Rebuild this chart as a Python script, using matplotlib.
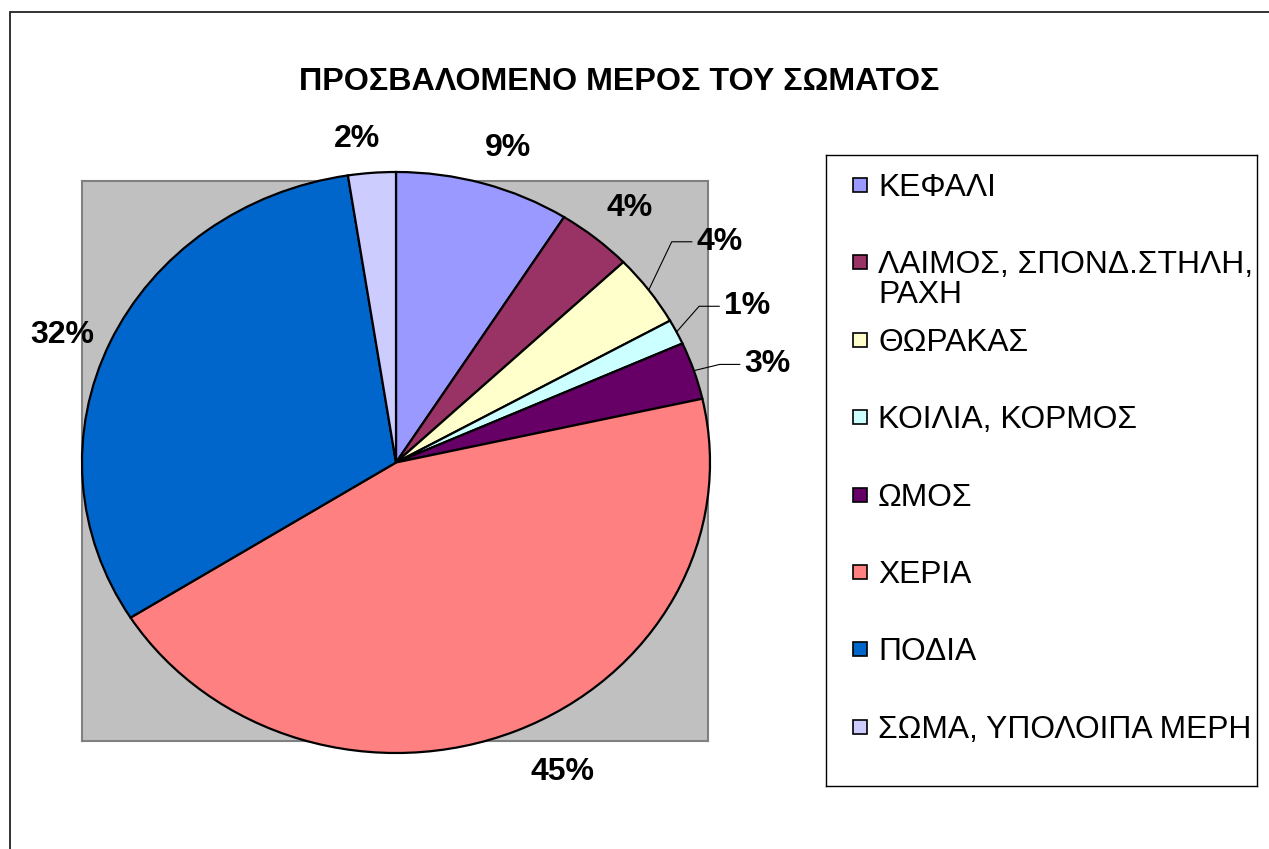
import numpy as np
import matplotlib
matplotlib.use('Agg')
import matplotlib.pyplot as plt
from matplotlib.patches import Rectangle

plt.rcParams['font.family'] = ['Liberation Sans', 'DejaVu Sans']

title = 'ΠΡΟΣΒΑΛΟΜΕΝΟ ΜΕΡΟΣ ΤΟΥ ΣΩΜΑΤΟΣ'
parts = ['ΚΕΦΑΛΙ', 'ΛΑΙΜΟΣ, ΣΠΟΝΔ.ΣΤΗΛΗ,\nΡΑΧΗ', 'ΘΩΡΑΚΑΣ', 'ΚΟΙΛΙΑ, ΚΟΡΜΟΣ',
         'ΩΜΟΣ', 'ΧΕΡΙΑ', 'ΠΟΔΙΑ', 'ΣΩΜΑ, ΥΠΟΛΟΙΠΑ ΜΕΡΗ']
shares = [9.0, 3.9, 4.0, 1.4, 3.2, 44.6, 31.55, 2.45]
colors = ['#9999FF', '#993366', '#FFFFCC', '#CCFFFF',
          '#660066', '#FF8080', '#0066CC', '#CCCCFF']

# label placement: radius (pie units), angle shift (deg), leader line or not
lab_r = [1.14, 1.15, 1.28, 1.24, 1.23, 1.19, 1.15, 1.12]
lab_shift = [2, 1, 0, 1, 2.5, -4, -2, -2]
leader = [False, False, True, True, True, False, False, False]

W, H = 1269, 849


def box(x0, y0, x1, y1):
    # pixel box (origin top-left) -> figure fraction rect
    return [x0 / W, 1 - y1 / H, (x1 - x0) / W, (y1 - y0) / H]


fig = plt.figure(figsize=(W / 100, H / 100), dpi=100)

# outer chart frame (only left/top edges fall inside the picture)
fig.add_artist(Rectangle((10 / W, -0.1), 1.2, 1.1 - 12 / H, transform=fig.transFigure,
                         fill=False, edgecolor='#222222', linewidth=1.3))

# gray plot area
bg = fig.add_axes(box(82, 181, 708, 741))
bg.set_facecolor('#C0C0C0')
bg.set_xticks([])
bg.set_yticks([])
for s in bg.spines.values():
    s.set_color('#808080')
    s.set_linewidth(1.5)

# pie (stretched a bit vertically like the original)
ax = fig.add_axes(box(82, 172, 710, 753))
ax.pie(shares, colors=colors, startangle=90, counterclock=False, radius=1,
       wedgeprops=dict(edgecolor='black', linewidth=1.6))
ax.set_aspect('auto')
ax.set_xlim(-1, 1)
ax.set_ylim(-1, 1)
ax.set_axis_off()

total = sum(shares)
cum = np.cumsum(shares)
for i, v in enumerate(shares):
    ang = np.deg2rad((cum[i] - v / 2) / total * 360 + lab_shift[i])
    x, y = lab_r[i] * np.sin(ang), lab_r[i] * np.cos(ang)
    ax.text(x, y, f'{round(v / total * 100):.0f}%', ha='center', va='center',
            fontsize=23, fontweight='bold', clip_on=False)
    if leader[i]:
        mid = np.deg2rad((cum[i] - v / 2) / total * 360)
        tip = x - 0.088
        ax.plot([np.sin(mid), tip - 0.064, tip], [np.cos(mid), y, y],
                color='black', linewidth=0.8, clip_on=False)

fig.text(619 / W, 1 - 82 / H, title, ha='center', va='center',
         fontsize=23.2, fontweight='bold')

# legend box drawn by hand (Excel style, marker on first line)
lg = fig.add_axes(box(826, 155, 1257, 786))
lg.set_xlim(826, 1257)
lg.set_ylim(786, 155)
lg.set_xticks([])
lg.set_yticks([])
for s in lg.spines.values():
    s.set_color('black')
    s.set_linewidth(1.0)

for i, (lab, c) in enumerate(zip(parts, colors)):
    y = 185 + i * 77.4
    lg.add_patch(Rectangle((853, y - 7), 14, 14, facecolor=c,
                           edgecolor='black', linewidth=1.2))
    for j, line in enumerate(lab.split('\n')):
        lg.text(878, y + j * 30 + 11, line, va='baseline', fontsize=22.9)

fig.savefig('out.png', dpi=100)
